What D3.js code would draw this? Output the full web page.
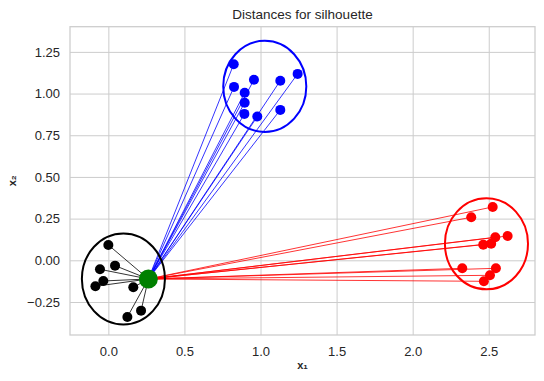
<!DOCTYPE html>
<meta charset="utf-8">
<style>
body { margin: 0; background: #fff; }
svg { font-family: "Liberation Sans", Arial, sans-serif; }
.grid line { stroke: #cccccc; stroke-width: 1; }
.tick text { fill: #262626; font-size: 13px; }
</style>
<svg width="544" height="381"></svg>
<script src="https://d3js.org/d3.v7.min.js"></script>
<script>
// cluster 0 (black)
var blackX = [0.00, -0.055, 0.044, -0.033, -0.085, 0.164, 0.215, 0.125];
var blackY = [0.092, -0.054, -0.032, -0.124, -0.156, -0.162, -0.302, -0.340];
// cluster 1 (blue)
var blueX = [0.824, 0.826, 0.957, 0.896, 0.896, 0.894, 0.979, 1.130, 1.130, 1.244];
var blueY = [1.176, 1.040, 1.083, 1.005, 0.945, 0.878, 0.862, 1.077, 0.902, 1.118];
// cluster 2 (red)
var redX = [2.526, 2.385, 2.624, 2.543, 2.516, 2.464, 2.326, 2.547, 2.508, 2.468];
var redY = [0.320, 0.258, 0.146, 0.138, 0.100, 0.094, -0.048, -0.048, -0.090, -0.126];
// the point whose silhouette is computed
var pointX = 0.263, pointY = -0.112;
// cluster circles
var circleX = [0.099, 1.028, 2.485];
var circleY = [-0.112, 1.043, 0.099];
var circleR = 0.273;
var clusterColors = ["black", "blue", "red"];

var xTicks = [0, 0.5, 1, 1.5, 2, 2.5];
var yTicks = [-0.25, 0, 0.25, 0.5, 0.75, 1, 1.25];

var svg = d3.select("svg");
var mLeft = 70, mRight = 535, mTop = 26.7, mBottom = 335;

var x = d3.scaleLinear().domain([-0.252, 2.804]).range([mLeft, mRight]);
var y = d3.scaleLinear().domain([-0.448, 1.401]).range([mBottom, mTop]);

// grid + tick labels
svg.append("g").attr("class", "grid")
  .attr("transform", "translate(0," + mBottom + ")")
  .call(d3.axisBottom(x).tickValues(xTicks).tickSize(-(mBottom - mTop)).tickPadding(12)
    .tickFormat(d3.format(".1f")))
  .call(function (g) { g.select(".domain").remove(); });

svg.append("g").attr("class", "grid")
  .attr("transform", "translate(" + mLeft + ",0)")
  .call(d3.axisLeft(y).tickValues(yTicks).tickSize(-(mRight - mLeft)).tickPadding(10)
    .tickFormat(function (d) { return d3.format(".2f")(d).replace("-", "\u2212"); }))
  .call(function (g) { g.select(".domain").remove(); });

// frame
svg.append("rect")
  .attr("x", mLeft).attr("y", mTop)
  .attr("width", mRight - mLeft).attr("height", mBottom - mTop)
  .attr("fill", "none").attr("stroke", "#cccccc").attr("stroke-width", 1.25);

var groups = [
  { xs: blackX, ys: blackY, color: clusterColors[0] },
  { xs: blueX, ys: blueY, color: clusterColors[1] },
  { xs: redX, ys: redY, color: clusterColors[2] }
];

// distance lines
groups.forEach(function (g) {
  svg.append("g").selectAll("line")
    .data(g.xs.map(function (v, i) { return [v, g.ys[i]]; }))
    .enter().append("line")
      .attr("x1", x(pointX)).attr("y1", y(pointY))
      .attr("x2", function (d) { return x(d[0]); })
      .attr("y2", function (d) { return y(d[1]); })
      .attr("stroke", g.color).attr("stroke-width", 0.8);
});

// cluster circles (circles in data space -> ellipses on screen)
svg.append("g").selectAll("ellipse")
  .data(circleX.map(function (v, i) { return [v, circleY[i], clusterColors[i]]; }))
  .enter().append("ellipse")
    .attr("cx", function (d) { return x(d[0]); })
    .attr("cy", function (d) { return y(d[1]); })
    .attr("rx", x(circleR) - x(0))
    .attr("ry", y(0) - y(circleR))
    .attr("fill", "none")
    .attr("stroke", function (d) { return d[2]; })
    .attr("stroke-width", 2);

// points
groups.forEach(function (g) {
  svg.append("g").selectAll("circle")
    .data(g.xs.map(function (v, i) { return [v, g.ys[i]]; }))
    .enter().append("circle")
      .attr("cx", function (d) { return x(d[0]); })
      .attr("cy", function (d) { return y(d[1]); })
      .attr("r", 5)
      .attr("fill", g.color);
});

svg.append("circle")
  .attr("cx", x(pointX)).attr("cy", y(pointY))
  .attr("r", 9.5).attr("fill", "green");

// labels
svg.append("text")
  .attr("x", (mLeft + mRight) / 2).attr("y", 19)
  .attr("text-anchor", "middle").attr("fill", "#262626")
  .style("font-size", "13.5px")
  .text("Distances for silhouette");

svg.append("text")
  .attr("x", (mLeft + mRight) / 2).attr("y", 369)
  .attr("text-anchor", "middle").attr("fill", "#262626")
  .style("font-size", "11px").style("font-weight", "bold")
  .text("x\u2081");

svg.append("text")
  .attr("transform", "translate(16," + (mTop + mBottom) / 2 + ") rotate(-90)")
  .attr("text-anchor", "middle").attr("fill", "#262626")
  .style("font-size", "11px").style("font-weight", "bold")
  .text("x\u2082");
</script>
